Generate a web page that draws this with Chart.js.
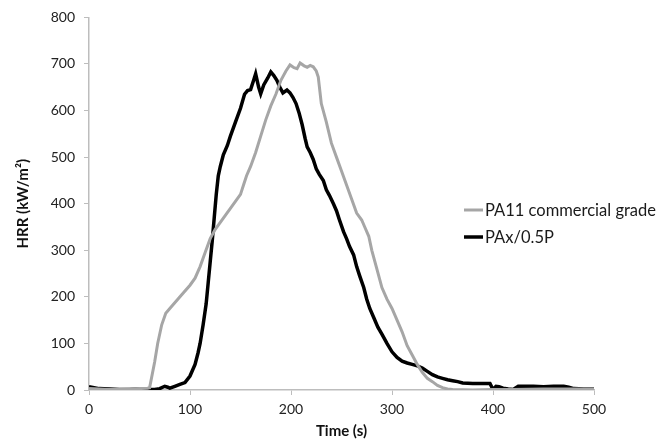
<!DOCTYPE html>
<html lang="en">
<head>
    <meta charset="UTF-8">
    <title>HRR vs Time</title>
    <script src="https://cdn.jsdelivr.net/npm/chart.js"></script>
    <style>
        html, body {
            margin: 0;
            padding: 0;
            background: #ffffff;
        }
        #wrap {
            width: 663px;
            height: 440px;
            position: relative;
        }
    </style>
</head>
<body>

    <div id="wrap">
        <canvas id="graficoHRR"></canvas>
    </div>

    <script>
        // Series labels
        const seriesNames = ["PA11 commercial grade", "PAx/0.5P"];

        // PA11 commercial grade: time (s) and HRR (kW/m2)
        const timeA = [0, 10, 20, 30, 40, 50, 58, 60, 65, 68, 72, 76, 80, 86, 92, 100, 105, 110, 115, 120,
            125, 130, 135, 140, 145, 150, 153, 156, 160, 165, 170, 175, 180, 185, 190, 195, 199, 203, 206, 209,
            213, 216, 219, 222, 225, 227, 230, 235, 240, 245, 250, 255, 260, 265, 270, 273, 277, 280, 285, 290,
            295, 300, 305, 310, 315, 320, 325, 330, 335, 340, 345, 350, 355, 360, 380, 400, 420, 450, 480, 500];
        const hrrA = [3, 2, 1, 1, 2, 3, 4, 5, 60, 100, 140, 165, 175, 190, 205, 225, 240, 265, 295, 325,
            345, 360, 375, 390, 405, 420, 440, 460, 480, 510, 545, 580, 610, 635, 665, 685, 698, 692, 690, 702,
            696, 693, 697, 694, 685, 672, 615, 575, 530, 500, 470, 440, 410, 380, 365, 350, 330, 300, 260, 220,
            195, 175, 150, 125, 95, 75, 55, 38, 25, 18, 10, 5, 2, 1, 0, 1, 1, 2, 2, 2];

        // PAx/0.5P: time (s) and HRR (kW/m2)
        const timeB = [0, 5, 10, 20, 30, 40, 50, 60, 65, 70, 75, 78, 80, 85, 90, 95, 100, 105, 108, 110,
            113, 116, 118, 120, 122, 124, 126, 128, 130, 133, 137, 140, 145, 150, 154, 157, 160, 163, 165, 168,
            170, 173, 177, 180, 183, 186, 189, 192, 196, 199, 202, 205, 208, 211, 214, 216, 219, 222, 225, 228,
            232, 235, 238, 242, 245, 248, 252, 255, 258, 262, 265, 268, 272, 275, 278, 282, 286, 290, 295, 300,
            305, 310, 315, 320, 325, 330, 335, 340, 345, 350, 355, 360, 365, 370, 380, 390, 397, 400, 403, 406,
            410, 415, 420, 425, 440, 450, 460, 470, 475, 480, 490, 500];
        const hrrB = [7, 5, 3, 2, 1, 1, 2, 1, 1, 3, 8, 6, 4, 8, 12, 16, 30, 55, 80, 100,
            140, 185, 230, 275, 320, 370, 420, 460, 480, 505, 525, 545, 575, 605, 635, 643, 645, 665, 679, 650,
            636, 655, 670, 683, 675, 665, 650, 638, 644, 638, 628, 615, 595, 570, 540, 522, 510, 495, 475, 463,
            450, 430, 418, 400, 385, 365, 340, 325, 308, 290, 265, 245, 220, 195, 175, 155, 135, 120, 100, 82,
            70, 62, 58, 55, 52, 47, 40, 33, 28, 25, 22, 20, 18, 15, 14, 14, 14, 1, 8, 7,
            4, 2, 1, 8, 8, 7, 8, 8, 6, 3, 2, 2];

        // Axis ticks
        const xTicks = [0, 100, 200, 300, 400, 500];
        const yTicks = [0, 100, 200, 300, 400, 500, 600, 700, 800];

        const toPoints = (xs, ys) => xs.map((x, i) => ({ x: x, y: ys[i] }));

        const fonte = "Lato, 'Open Sans', sans-serif";
        const axisColor = "#bdbdbd";

        // legenda desenhada à direita, sobre a área do gráfico
        const legendaPlugin = {
            id: "legendaDireita",
            afterDraw(chart) {
                const ctx = chart.ctx;
                const x0 = 464;
                const linhas = [210, 237];
                ctx.save();
                ctx.font = "16.5px " + fonte;
                ctx.textBaseline = "middle";
                chart.data.datasets.forEach((ds, i) => {
                    ctx.strokeStyle = ds.borderColor;
                    ctx.lineWidth = ds.borderWidth;
                    ctx.beginPath();
                    ctx.moveTo(x0, linhas[i]);
                    ctx.lineTo(x0 + 19, linhas[i]);
                    ctx.stroke();
                    ctx.fillStyle = "#1a1a1a";
                    ctx.fillText(ds.label, x0 + 21, linhas[i] + 1);
                });
                ctx.restore();
            }
        };

        const ctx = document.getElementById("graficoHRR").getContext("2d");
        new Chart(ctx, {
            type: "line",
            data: {
                datasets: [
                    {
                        label: seriesNames[0],
                        data: toPoints(timeA, hrrA),
                        borderColor: "#a6a6a6",
                        borderWidth: 3,
                        pointRadius: 0,
                        tension: 0
                    },
                    {
                        label: seriesNames[1],
                        data: toPoints(timeB, hrrB),
                        borderColor: "#000000",
                        borderWidth: 3.5,
                        pointRadius: 0,
                        tension: 0
                    }
                ]
            },
            options: {
                responsive: true,
                maintainAspectRatio: false,
                animation: false,
                layout: {
                    padding: { left: 0, right: 69, top: 12, bottom: 0 }
                },
                plugins: {
                    legend: { display: false },
                    tooltip: { enabled: false }
                },
                scales: {
                    x: {
                        type: "linear",
                        min: 0,
                        max: 500,
                        afterBuildTicks: (scale) => { scale.ticks = xTicks.map(v => ({ value: v })); },
                        afterFit: (scale) => { scale.height = 50; },
                        border: { color: axisColor, width: 1.5 },
                        grid: { drawOnChartArea: false, drawTicks: true, tickLength: 5, color: axisColor },
                        ticks: { color: "#222", font: { family: fonte, size: 14 }, padding: 6, maxRotation: 0 },
                        title: {
                            display: true,
                            text: "Time (s)",
                            color: "#111",
                            font: { family: fonte, size: 15, weight: "bold" },
                            padding: { top: 2, bottom: 0 }
                        }
                    },
                    y: {
                        min: 0,
                        max: 800,
                        afterBuildTicks: (scale) => { scale.ticks = yTicks.map(v => ({ value: v })); },
                        afterFit: (scale) => { scale.width = 89; },
                        border: { color: axisColor, width: 1.5 },
                        grid: { drawOnChartArea: false, drawTicks: true, tickLength: 5, color: axisColor },
                        ticks: { color: "#222", font: { family: fonte, size: 14 }, padding: 9 },
                        title: {
                            display: true,
                            text: "HRR (kW/m²)",
                            color: "#111",
                            font: { family: fonte, size: 15, weight: "bold" },
                            padding: { top: 14, bottom: 0 }
                        }
                    }
                }
            },
            plugins: [legendaPlugin]
        });
    </script>

</body>
</html>
